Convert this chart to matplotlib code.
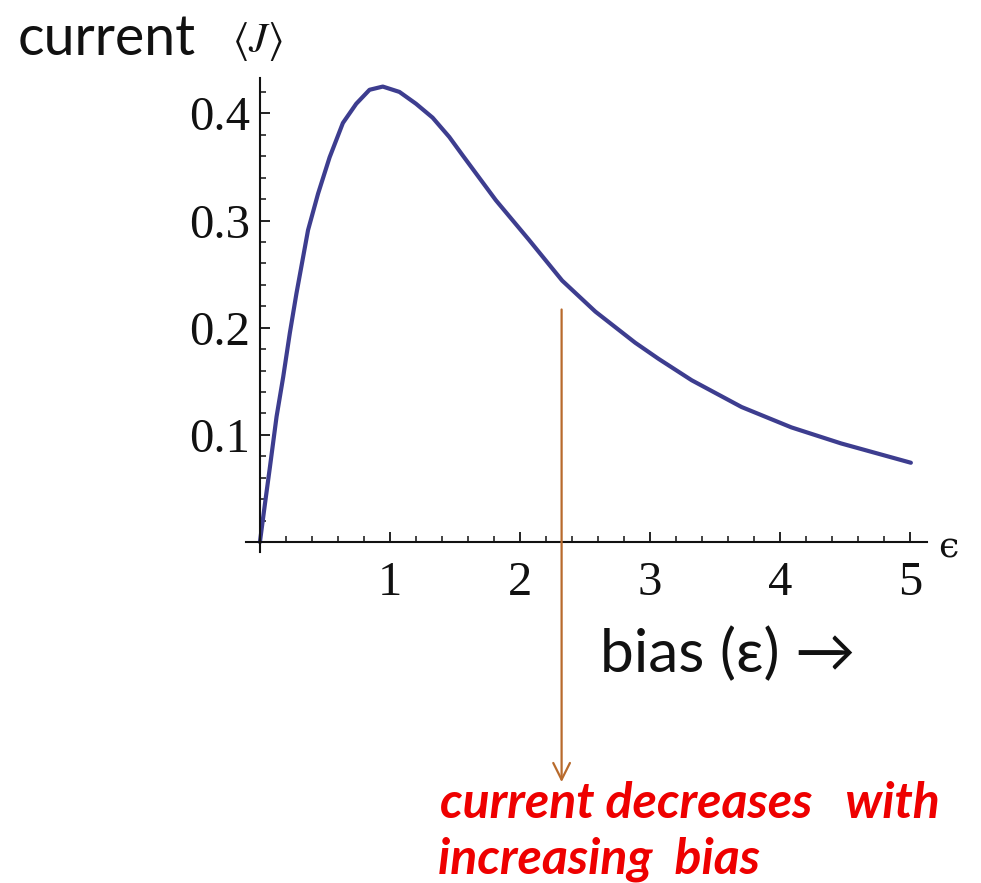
import matplotlib
matplotlib.use("Agg")
import matplotlib.pyplot as plt
from matplotlib.ticker import MultipleLocator

# values
bias = [0.0, 0.038, 0.077, 0.128, 0.179, 0.230, 0.281, 0.370, 0.447, 0.536,
        0.638, 0.741, 0.843, 0.945, 1.073, 1.200, 1.328, 1.456, 1.558, 1.814,
        2.069, 2.324, 2.580, 2.886, 3.065, 3.320, 3.704, 4.087, 4.470, 5.006]
current = [0.0, 0.035, 0.070, 0.117, 0.154, 0.195, 0.232, 0.291, 0.325, 0.359,
           0.391, 0.409, 0.422, 0.425, 0.420, 0.409, 0.396, 0.378, 0.361, 0.319,
           0.282, 0.244, 0.215, 0.186, 0.171, 0.151, 0.126, 0.107, 0.092, 0.074]
x_ticks = [1, 2, 3, 4, 5]
y_ticks = [0.1, 0.2, 0.3, 0.4]
arrow_bias = 2.32

W, H = 981, 883
plt.rcParams["mathtext.fontset"] = "stix"

fig = plt.figure(figsize=(W / 100, H / 100), dpi=100)
fig.patch.set_facecolor("white")


def fx(px):
    return px / W


def fy(py):
    return 1 - py / H


left, right, top, bottom = 246, 927, 78, 551.7
ax = fig.add_axes([fx(left), fy(bottom), (right - left) / W, (bottom - top) / H])
ax.set_xlim(-0.107, 5.13)
ax.set_ylim(-0.009, 0.433)

ax.plot(bias, current, color="#3d3d8f", linewidth=3.0,
        solid_capstyle="round", solid_joinstyle="round")

for side in ["top", "right"]:
    ax.spines[side].set_visible(False)
ax.spines["left"].set_position(("data", 0))
ax.spines["bottom"].set_position(("data", 0))
for side in ["left", "bottom"]:
    ax.spines[side].set_linewidth(1.5)
    ax.spines[side].set_color("#111111")

ax.set_xticks(x_ticks)
ax.set_yticks(y_ticks)
ax.set_xticklabels([str(t) for t in x_ticks])
ax.set_yticklabels([f"{t:.1f}" for t in y_ticks])
ax.xaxis.set_minor_locator(MultipleLocator(0.2))
ax.yaxis.set_minor_locator(MultipleLocator(0.02))

ax.tick_params(which="major", direction="in", length=7, width=1.3, color="#111111")
ax.tick_params(which="minor", direction="in", length=4.5, width=1.1, color="#111111")
ax.tick_params(axis="x", which="major", pad=14)
ax.tick_params(axis="y", which="major", pad=7)
for lab in ax.get_xticklabels() + ax.get_yticklabels():
    lab.set_fontfamily(["Liberation Serif", "DejaVu Serif"])
    lab.set_fontsize(35)
    lab.set_color("#111111")

# brown arrow pointing down to the note
ax.annotate("", xy=(arrow_bias, -0.224), xytext=(arrow_bias, 0.217),
            xycoords="data", textcoords="data", annotation_clip=False,
            arrowprops=dict(arrowstyle="->", color="#b86a2c", lw=1.6,
                            mutation_scale=30, shrinkA=0, shrinkB=0))

sans = ["Lato", "DejaVu Sans"]
fig.text(fx(18), fy(55), "current", fontsize=40, family=sans, color="#111111",
         va="baseline", ha="left")
fig.text(fx(232), fy(52), r"$\langle J\rangle$", fontsize=30, color="#111111",
         va="baseline", ha="left")
fig.text(fx(938), fy(547), "\u03f5", fontsize=26, family=["DejaVu Serif"],
         color="#111111", va="center", ha="left")

fig.text(fx(600), fy(672), "bias (\u03b5) \u2192", fontsize=43.5, family=sans,
         color="#111111", va="baseline", ha="left")

fig.text(fx(440), fy(818), "current decreases   with", fontsize=36, family=sans,
         color="#ee0000", va="baseline", ha="left", style="italic", weight="bold")
fig.text(fx(438), fy(874), "increasing  bias", fontsize=36, family=sans,
         color="#ee0000", va="baseline", ha="left", style="italic", weight="bold")

fig.savefig("out.png", dpi=100)
